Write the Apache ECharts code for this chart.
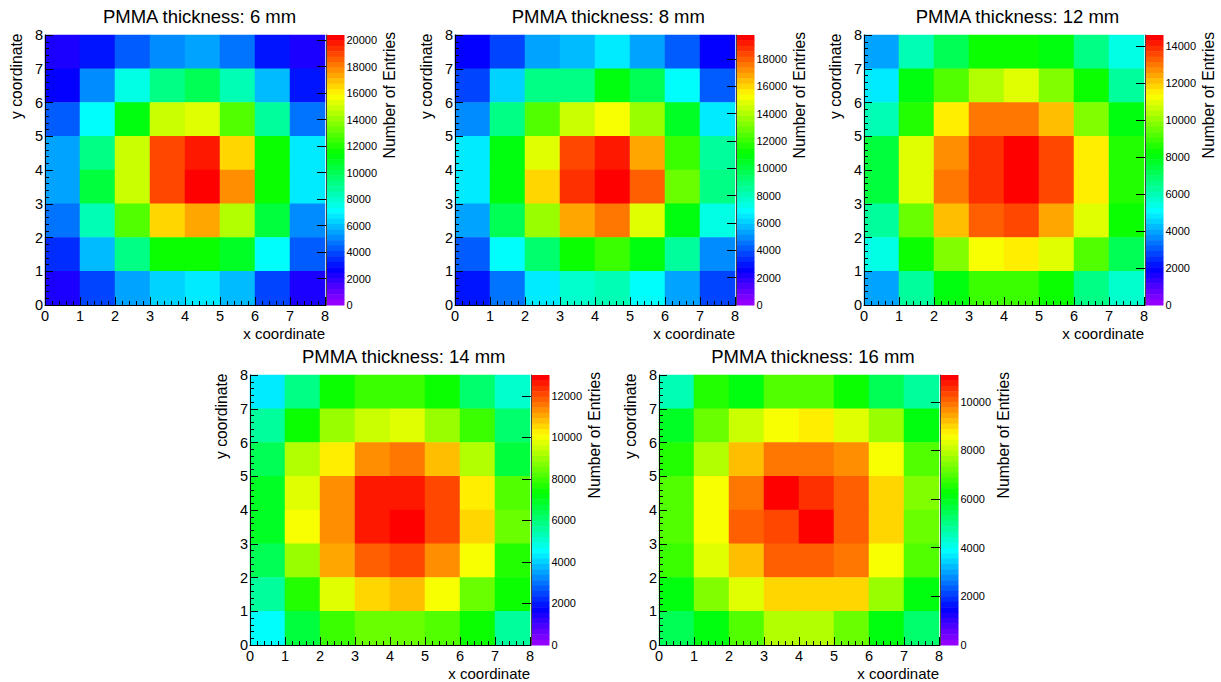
<!DOCTYPE html>
<html><head><meta charset="utf-8">
<script src="https://cdn.jsdelivr.net/npm/echarts@6/dist/echarts.min.js"></script>
<style>html,body{margin:0;padding:0;background:#fff}#c{width:1221px;height:682px}</style>
</head><body><div id="c"></div>
<script>
// ---------- DATA ----------
const panelTitles = ['PMMA thickness: 6 mm', 'PMMA thickness: 8 mm', 'PMMA thickness: 12 mm', 'PMMA thickness: 14 mm', 'PMMA thickness: 16 mm'];
const xBins = ['0-1', '1-2', '2-3', '3-4', '4-5', '5-6', '6-7', '7-8'];
const yBins = ['0-1', '1-2', '2-3', '3-4', '4-5', '5-6', '6-7', '7-8'];
const axisTickValues = [0, 1, 2, 3, 4, 5, 6, 7, 8];
const xTitle = 'x coordinate';
const yTitle = 'y coordinate';
const zTitle = 'Number of Entries';

// rows listed from top (y 7-8) down to bottom (y 0-1); columns x 0-1 ... 7-8
const entries6mm = [
  [2300, 3000, 4400, 5200, 5700, 4700, 3200, 2400],
  [2600, 5200, 7400, 9300, 9900, 8500, 6000, 3000],
  [4200, 7300, 11100, 14900, 15400, 12800, 8600, 4500],
  [5500, 9300, 15000, 19000, 19700, 16600, 11500, 6700],
  [5500, 10400, 15000, 19000, 20200, 17600, 11600, 6700],
  [4700, 8300, 12800, 16600, 17300, 14400, 10500, 4900],
  [3300, 6000, 9100, 11500, 11800, 10700, 7100, 4200],
  [2300, 3900, 5500, 6500, 6900, 5800, 3900, 2200]
];
const entries8mm = [
  [2400, 3700, 5200, 5900, 6400, 5500, 4200, 2400],
  [3900, 6000, 8900, 9000, 10900, 9800, 6900, 4000],
  [5000, 8700, 12300, 14600, 15400, 13800, 10400, 6400],
  [6500, 11000, 15000, 18400, 19000, 16900, 12000, 8400],
  [6500, 11000, 16000, 18600, 19500, 17800, 12800, 8700],
  [5500, 9800, 13600, 16800, 17400, 15000, 11000, 7500],
  [4000, 6900, 9300, 11300, 12000, 11000, 8400, 5000],
  [2900, 4400, 6400, 7800, 8200, 7000, 5200, 3700]
];
const entries12mm = [
  [3900, 6100, 7150, 8450, 8400, 8000, 6500, 5400],
  [4900, 8100, 9100, 10500, 10800, 9800, 8300, 6400],
  [6100, 8600, 11400, 13000, 13000, 12250, 9700, 8100],
  [7500, 11000, 12700, 14000, 14400, 13600, 11400, 8500],
  [7500, 10900, 13100, 13900, 14500, 13600, 11400, 8500],
  [6400, 9400, 12100, 13300, 13500, 12500, 10800, 8300],
  [5400, 8300, 9800, 11200, 11600, 11000, 9100, 7200],
  [3900, 6400, 8000, 8900, 9000, 8200, 6700, 5700]
];
const entries14mm = [
  [4400, 5900, 7500, 7900, 7900, 7500, 6000, 5200],
  [5600, 7400, 8900, 9500, 9800, 9100, 7900, 6000],
  [6400, 9200, 10400, 11300, 11600, 10800, 9200, 6700],
  [6900, 9800, 11400, 12500, 12500, 12100, 10200, 8300],
  [6900, 10000, 11400, 12500, 12900, 12000, 10600, 8400],
  [6300, 9100, 11000, 11800, 12000, 11400, 10000, 7800],
  [5700, 7800, 9800, 10500, 10700, 10000, 8500, 7400],
  [4600, 6600, 8000, 8500, 8500, 8300, 7300, 5500]
];
const entries16mm = [
  [4640, 6550, 6200, 6900, 6900, 6400, 5500, 4800],
  [5900, 7300, 8200, 8500, 8800, 8400, 7600, 6100],
  [6500, 7900, 9200, 9900, 9900, 9600, 8500, 7100],
  [7000, 8600, 9800, 10900, 10500, 10200, 9100, 7500],
  [7000, 8600, 10000, 10400, 11000, 10200, 8900, 7200],
  [6800, 8400, 9300, 10200, 10200, 9800, 8500, 6900],
  [6200, 7400, 8400, 9000, 9000, 8900, 7700, 6200],
  [5500, 6100, 7000, 7800, 7800, 7200, 6100, 5300]
];
// colour-scale maxima (top of each palette)
const zMax = [20380, 19750, 14590, 13000, 11100];
// palette tick labels
const zTicks6mm = [0, 2000, 4000, 6000, 8000, 10000, 12000, 14000, 16000, 18000, 20000];
const zTicks8mm = [0, 2000, 4000, 6000, 8000, 10000, 12000, 14000, 16000, 18000];
const zTicks12mm = [0, 2000, 4000, 6000, 8000, 10000, 12000, 14000];
const zTicks14mm = [0, 2000, 4000, 6000, 8000, 10000, 12000];
const zTicks16mm = [0, 2000, 4000, 6000, 8000, 10000];

// ---------- LAYOUT / STYLE ----------
const allEntries = [entries6mm, entries8mm, entries12mm, entries14mm, entries16mm];
const allZTicks = [zTicks6mm, zTicks8mm, zTicks12mm, zTicks14mm, zTicks16mm];
const frames = [
  {left: 45, top: 35}, {left: 455, top: 35}, {left: 864, top: 35},
  {left: 250, top: 375}, {left: 659, top: 375}
];
const titleCx = [199.5, 608.3, 1017.5, 403.7, 813];
const FW = 280, FH = 270;
const FONT = '"Liberation Sans", Arial, Helvetica, sans-serif';
const NCOL = 50;

function hueRGB(h) {
  const f = n => { const k = (n + h / 30) % 12; return 0.5 - 0.5 * Math.max(-1, Math.min(k - 3, 9 - k, 1)); };
  return 'rgb(' + Math.round(255 * f(0)) + ',' + Math.round(255 * f(8)) + ',' + Math.round(255 * f(4)) + ')';
}
const palette = [];
for (let i = 0; i < NCOL - 1; i++) palette.push(hueRGB(280 - (i + 1) * 280 / NCOL));
palette.push('rgb(255,0,0)');

const grids = [], xAxes = [], yAxes = [], series = [], visualMaps = [], graphics = [];
frames.forEach((fr, p) => {
  const max = zMax[p];
  grids.push({left: fr.left, top: fr.top, width: FW, height: FH});
  grids.push({left: fr.left + 281, top: fr.top, width: 18.5, height: FH});
  const g0 = 2 * p, g1 = 2 * p + 1;
  // category axes (hidden) carrying the cells
  xAxes.push({type: 'category', gridIndex: g0, data: xBins, position: 'top', show: false});
  yAxes.push({type: 'category', gridIndex: g0, data: yBins, position: 'right', show: false});
  // visible numeric axes 0..8
  const common = {
    type: 'value', gridIndex: g0, min: axisTickValues[0], max: axisTickValues[axisTickValues.length - 1], interval: 1, z: 5,
    axisLine: {show: true, onZero: false, lineStyle: {color: '#000', width: 1}},
    axisTick: {show: true, inside: true, length: 8, lineStyle: {color: '#000', width: 1}},
    minorTick: {show: true, splitNumber: 5, length: 4, lineStyle: {color: '#000', width: 1}},
    splitLine: {show: false}, minorSplitLine: {show: false}
  };
  xAxes.push(Object.assign({}, common, {position: 'bottom',
    axisLabel: {fontSize: 14.5, color: '#000', fontFamily: FONT, margin: 4, lineHeight: 14}}));
  yAxes.push(Object.assign({}, common, {position: 'left',
    axisLabel: {fontSize: 14.5, color: '#000', fontFamily: FONT, margin: 2, lineHeight: 14}}));
  // palette axis
  xAxes.push({type: 'value', gridIndex: g1, show: false, min: 0, max: 1});
  yAxes.push({type: 'value', gridIndex: g1, position: 'right', min: 0, max: max, z: 10,
    axisLine: {show: true, lineStyle: {color: '#444', width: 1}},
    axisTick: {show: true, inside: true, length: 9, customValues: allZTicks[p], lineStyle: {color: '#000', width: 1}},
    axisLabel: {customValues: allZTicks[p], fontSize: 11, color: '#000', fontFamily: FONT, margin: 2,
      formatter: v => String(v)},
    splitLine: {show: false}});
  // cells
  const rows = allEntries[p];
  const data = [];
  rows.forEach((row, r) => {
    const yi = rows.length - 1 - r;
    row.forEach((v, xi) => data.push([xi, yi, v]));
  });
  series.push({type: 'heatmap', xAxisIndex: 3 * p, yAxisIndex: 3 * p, data: data,
    emphasis: {disabled: true}, itemStyle: {borderWidth: 0}, animation: false});
  // discrete ROOT-like palette
  const pieces = [];
  for (let i = NCOL - 1; i >= 0; i--) {
    pieces.push({min: i * max / NCOL, max: i === NCOL - 1 ? max * 2 : (i + 1) * max / NCOL, color: palette[i]});
  }
  visualMaps.push({type: 'piecewise', seriesIndex: p, dimension: 2, pieces: pieces, orient: 'vertical',
    left: fr.left + 281, top: fr.top, itemWidth: 18.5, itemHeight: FH / NCOL + 0.5, itemGap: -0.5,
    itemSymbol: 'rect', showLabel: false, padding: 0, selectedMode: false, hoverLink: false});
  // texts
  graphics.push({type: 'text', x: titleCx[p], y: fr.top - 18.3,
    style: {text: panelTitles[p], fontSize: 18.5, fontFamily: FONT, fill: '#000', align: 'center', verticalAlign: 'middle'}});
  graphics.push({type: 'text', x: fr.left + FW, y: fr.top + 298,
    style: {text: xTitle, fontSize: 15, fontFamily: FONT, fill: '#000', align: 'right', verticalAlign: 'middle'}});
  graphics.push({type: 'text', x: fr.left - 28.5, y: fr.top - 1.5, rotation: Math.PI / 2,
    style: {text: yTitle, fontSize: 15.7, fontFamily: FONT, fill: '#000', align: 'right', verticalAlign: 'middle'}});
  graphics.push({type: 'text', x: fr.left + 344.5, y: fr.top - 3, rotation: Math.PI / 2,
    style: {text: zTitle, fontSize: 15.7, fontFamily: FONT, fill: '#000', align: 'right', verticalAlign: 'middle'}});
});

const chart = echarts.init(document.getElementById('c'), null, {renderer: 'svg', width: 1221, height: 682});
chart.setOption({
  backgroundColor: '#fff',
  animation: false,
  textStyle: {fontFamily: FONT},
  grid: grids, xAxis: xAxes, yAxis: yAxes,
  visualMap: visualMaps, series: series, graphic: graphics
});
</script></body></html>
